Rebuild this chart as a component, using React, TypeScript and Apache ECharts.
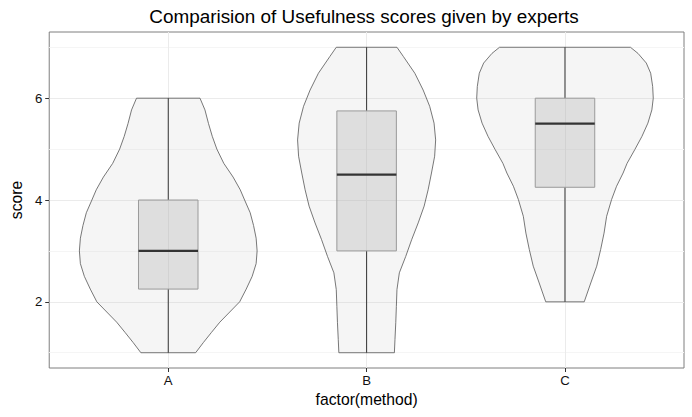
import React, { useEffect, useRef } from "react";
import * as echarts from "echarts";

// ---- data ----
const categories = ["A", "B", "C"];
const whiskerMin = [1, 1, 2];
const q1 = [2.25, 3, 4.25];
const medians = [3, 4.5, 5.5];
const q3 = [4, 5.75, 6];
const whiskerMax = [6, 7, 7];

// violin outlines: score -> half width (in category units)
const violinScoresA = [1.0, 1.2, 1.4, 1.6, 1.8, 2.0, 2.25, 2.5, 2.75, 3.0, 3.25, 3.5, 3.75, 4.0, 4.2, 4.45, 4.72, 5.0, 5.25, 5.5, 5.77, 6.0];
const violinWidthsA = [0.138, 0.177, 0.218, 0.26, 0.31, 0.36, 0.393, 0.423, 0.443, 0.448, 0.443, 0.43, 0.413, 0.385, 0.363, 0.327, 0.28, 0.245, 0.222, 0.203, 0.185, 0.16];
const violinScoresB = [1.0, 1.26, 1.59, 1.91, 2.24, 2.57, 2.89, 3.22, 3.55, 3.88, 4.2, 4.53, 4.86, 5.18, 5.51, 5.84, 6.16, 6.49, 6.82, 7.0];
const violinWidthsB = [0.14, 0.143, 0.147, 0.15, 0.153, 0.165, 0.197, 0.227, 0.26, 0.29, 0.31, 0.327, 0.343, 0.348, 0.34, 0.318, 0.285, 0.243, 0.185, 0.153];
const violinScoresC = [2.0, 2.37, 2.7, 3.03, 3.35, 3.68, 4.01, 4.27, 4.53, 4.72, 4.99, 5.25, 5.51, 5.77, 6.0, 6.23, 6.49, 6.69, 6.88, 7.0];
const violinWidthsC = [0.097, 0.13, 0.16, 0.18, 0.197, 0.21, 0.235, 0.26, 0.293, 0.313, 0.352, 0.388, 0.418, 0.438, 0.445, 0.442, 0.432, 0.41, 0.368, 0.33];

const violinScores = [violinScoresA, violinScoresB, violinScoresC];
const violinWidths = [violinWidthsA, violinWidthsB, violinWidthsC];

const yMajorTicks = [2, 4, 6];
const yMinorTicks = [1, 3, 5, 7];

const FONT = "'Liberation Sans', Arial, sans-serif";
const BOX_HALF = 0.15;

export default function App() {
  const ref = useRef<HTMLDivElement>(null);
  useEffect(() => {
    if (!ref.current) return;
    const chart = echarts.init(ref.current, null, { renderer: "svg" });
    const data = categories.map((_, i) => [i + 1, whiskerMin[i], q1[i], medians[i], q3[i], whiskerMax[i]]);
    const option: any = {
      animation: false,
      backgroundColor: "#ffffff",
      graphic: [
        {
          type: "text",
          x: 364,
          y: 16,
          style: {
            text: "Comparision of Usefulness scores given by experts",
            fill: "#000",
            font: `18.9px ${FONT}`,
            textAlign: "center",
            textVerticalAlign: "middle",
          },
        },
      ],
      grid: { left: 44, top: 32, right: 8, bottom: 49, show: true, borderColor: "#7f7f7f", borderWidth: 1, backgroundColor: "transparent" },
      xAxis: {
        type: "value",
        min: 0.4,
        max: 3.6,
        name: "factor(method)",
        nameLocation: "middle",
        nameGap: 21,
        nameTextStyle: { fontFamily: FONT, fontSize: 15.7, color: "#000" },
        axisLine: { show: false },
        axisTick: { show: true, length: 4, lineStyle: { color: "#333" }, customValues: [1, 2, 3] },
        axisLabel: {
          customValues: [1, 2, 3],
          formatter: (v: number) => categories[Math.round(v) - 1],
          fontFamily: FONT,
          fontSize: 13.2,
          color: "#111",
          margin: 6,
        },
        splitLine: { show: true, lineStyle: { color: "#ebebeb", width: 1 } },
      },
      yAxis: [
        {
          type: "value",
          min: 0.7,
          max: 7.3,
          name: "score",
          nameLocation: "middle",
          nameGap: 20,
          nameTextStyle: { fontFamily: FONT, fontSize: 15.7, color: "#000" },
          axisLine: { show: false },
          axisTick: { show: true, length: 4, lineStyle: { color: "#333" }, customValues: yMajorTicks },
          axisLabel: { customValues: yMajorTicks, fontFamily: FONT, fontSize: 13.2, color: "#111", margin: 7 },
          splitLine: { show: true, lineStyle: { color: "#ebebeb", width: 1 } },
          z: 1,
        },
        {
          type: "value",
          min: 0.7,
          max: 7.3,
          axisLine: { show: false },
          axisTick: { show: false, customValues: yMinorTicks },
          axisLabel: { show: false, customValues: yMinorTicks },
          splitLine: { show: true, lineStyle: { color: "#f5f5f5", width: 1 } },
          z: 0,
        },
      ],
      series: [
        {
          type: "custom",
          xAxisIndex: 0,
          yAxisIndex: 0,
          encode: { x: 0, y: [1, 2, 3, 4, 5] },
          data,
          renderItem: (params: any, api: any) => {
            const i = params.dataIndex;
            const xc = api.value(0);
            const sc = violinScores[i];
            const wd = violinWidths[i];
            const right = sc.map((s, k) => api.coord([xc + wd[k], s]));
            const left = sc.map((s, k) => api.coord([xc - wd[k], s])).reverse();
            const pts = right.concat(left);
            const pMin = api.coord([xc, api.value(1)]);
            const pQ1 = api.coord([xc, api.value(2)]);
            const pMed = api.coord([xc, api.value(3)]);
            const pQ3 = api.coord([xc, api.value(4)]);
            const pMax = api.coord([xc, api.value(5)]);
            const bl = api.coord([xc - BOX_HALF, api.value(4)]);
            const br = api.coord([xc + BOX_HALF, api.value(2)]);
            return {
              type: "group",
              children: [
                { type: "polygon", shape: { points: pts }, style: { fill: "rgba(200,200,200,0.18)", stroke: "#555", lineWidth: 0.8 } },
                { type: "line", shape: { x1: pQ3[0], y1: pQ3[1], x2: pMax[0], y2: pMax[1] }, style: { stroke: "#333", lineWidth: 1 } },
                { type: "line", shape: { x1: pQ1[0], y1: pQ1[1], x2: pMin[0], y2: pMin[1] }, style: { stroke: "#333", lineWidth: 1 } },
                {
                  type: "rect",
                  shape: { x: bl[0], y: bl[1], width: br[0] - bl[0], height: br[1] - bl[1] },
                  style: { fill: "rgba(170,170,170,0.3)", stroke: "#9a9a9a", lineWidth: 1 },
                },
                { type: "line", shape: { x1: bl[0], y1: pMed[1], x2: br[0], y2: pMed[1] }, style: { stroke: "#333", lineWidth: 2.2 } },
              ],
            };
          },
        },
      ],
    };
    chart.setOption(option);
    return () => chart.dispose();
  }, []);
  return <div ref={ref} style={{ width: 692, height: 417, position: "absolute", left: 0, top: 0 }} />;
}
